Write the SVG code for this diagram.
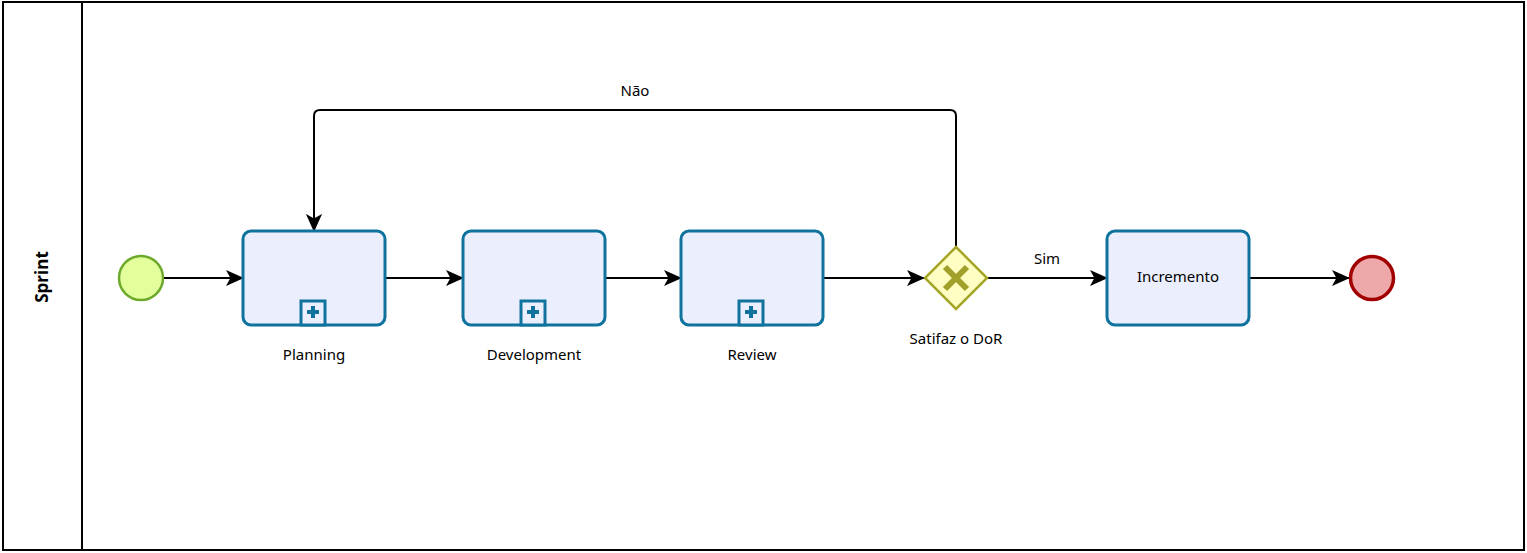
<svg xmlns="http://www.w3.org/2000/svg" width="1527" height="553" viewBox="0 0 1527 553">
<defs>
<style>
.lbl{font-family:"Noto Sans","Open Sans",sans-serif;font-size:15px;fill:#000;text-anchor:middle}
.task{fill:#EBEFFD;stroke:#10739E;stroke-width:3}
.edge{fill:none;stroke:#000;stroke-width:2}
.mk{fill:#10739E}
</style>
<marker id="arr" viewBox="0 0 20 20" refX="19" refY="10" markerWidth="18" markerHeight="18" markerUnits="userSpaceOnUse" orient="auto">
<path d="M0,1 L20,10 L0,19 L5,10 Z" fill="#000"/>
</marker>
<g id="sub">
<rect x="-12" y="-24" width="24" height="24" fill="#EBEFFD" stroke="#10739E" stroke-width="3"/>
<path d="M-2,-19 h4 v4 h4 v4 h-4 v4 h-4 v-4 h-4 v-4 h4 z" class="mk"/>
</g>
</defs>
<g id="pool">
<rect x="3" y="2" width="1521" height="548" fill="#fff" stroke="#000" stroke-width="2"/>
<line x1="82" y1="2" x2="82" y2="550" stroke="#000" stroke-width="2"/>
<text transform="translate(48,277) rotate(-90)" font-family="'Open Sans','Noto Sans',sans-serif" font-size="17" font-weight="bold" text-anchor="middle">Sprint</text>
</g>
<g id="connectors">
<path class="edge" d="M163,278 H243" marker-end="url(#arr)"/>
<path class="edge" d="M385,278 H463" marker-end="url(#arr)"/>
<path class="edge" d="M605,278 H681" marker-end="url(#arr)"/>
<path class="edge" d="M823,278 H924" marker-end="url(#arr)"/>
<path class="edge" d="M988,278 H1107" marker-end="url(#arr)"/>
<path class="edge" d="M1249,278 H1349" marker-end="url(#arr)"/>
<path class="edge" d="M956,247 V116 Q956,110 950,110 H320 Q314,110 314,116 V231" marker-end="url(#arr)"/>
<text class="lbl" x="635" y="96">Não</text>
<text class="lbl" x="1047" y="264">Sim</text>
</g>
<g id="start">
<circle cx="141" cy="278" r="22" fill="#E2FF9C" stroke="#6DAA2C" stroke-width="2.5"/>
</g>
<g id="planning">
<rect class="task" x="243" y="231" width="142" height="94" rx="8"/>
<use href="#sub" x="313" y="325"/>
<text class="lbl" x="314" y="360">Planning</text>
</g>
<g id="development">
<rect class="task" x="463" y="231" width="142" height="94" rx="8"/>
<use href="#sub" x="533" y="325"/>
<text class="lbl" x="534" y="360">Development</text>
</g>
<g id="review">
<rect class="task" x="681" y="231" width="142" height="94" rx="8"/>
<use href="#sub" x="751" y="325"/>
<text class="lbl" x="752" y="360">Review</text>
</g>
<g id="gateway">
<path d="M956,247 L987,278 L956,309 L925,278 Z" fill="#FFFFC4" stroke="#A5A527" stroke-width="2.5"/>
<path d="M945,267 L967,289 M967,267 L945,289" stroke="#A0A02A" stroke-width="6"/>
<text class="lbl" x="956" y="344">Satifaz o DoR</text>
</g>
<g id="incremento">
<rect class="task" x="1107" y="231" width="142" height="94" rx="8"/>
<text class="lbl" x="1178" y="282">Incremento</text>
</g>
<g id="end">
<circle cx="1372" cy="278" r="21.5" fill="#EEA8AA" stroke="#A20000" stroke-width="3.5"/>
</g>
</svg>
